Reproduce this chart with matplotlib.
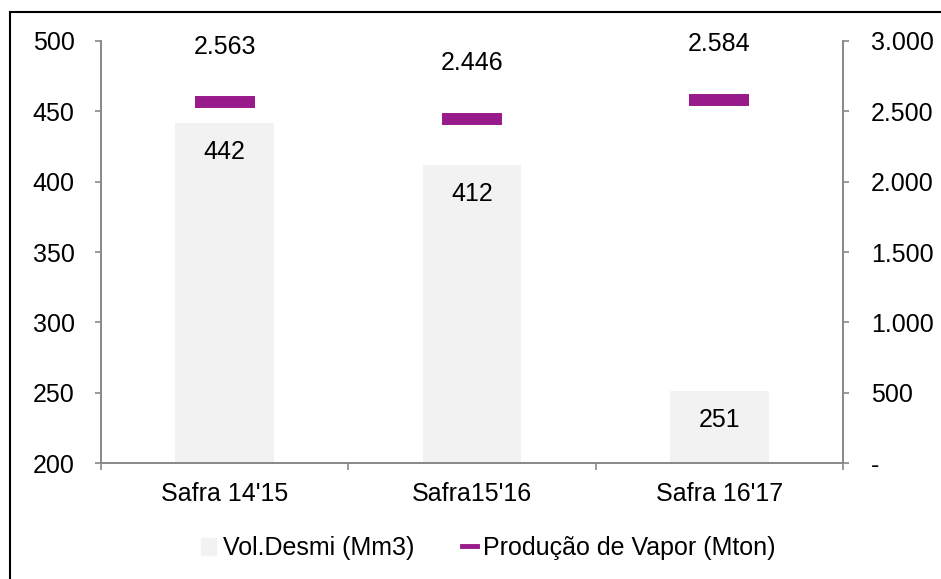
import matplotlib.pyplot as plt
import matplotlib.patches as mpatches
from matplotlib.lines import Line2D
from matplotlib.ticker import FuncFormatter, FixedLocator
import numpy as np

plt.rcParams['font.family'] = ['Liberation Sans', 'DejaVu Sans']

# dados
safras = ["Safra 14'15", "Safra15'16", "Safra 16'17"]
vol_desmi = [442, 412, 251]          # Mm3, eixo esquerdo
prod_vapor = [2563, 2446, 2584]      # Mton, eixo direito

bar_cor = '#F2F2F2'
roxo = '#991A8A'
cinza = '#888888'
fs = 18

fig = plt.figure(figsize=(9.41, 5.79), dpi=100)
ax = fig.add_axes([0.1073, 0.2003, 0.7886, 0.7289])
ax2 = ax.twinx()

x = np.arange(len(safras))
ax.bar(x, vol_desmi, width=0.4, color=bar_cor, bottom=0, zorder=1)
ax.set_ylim(200, 500)
ax.set_xlim(-0.5, len(safras) - 0.5)
ax.set_yticks(np.arange(200, 501, 50))

for xi, v in zip(x, vol_desmi):
    ax.annotate(str(v), (xi, v), xytext=(0, -21), textcoords='offset points',
                ha='center', va='center', fontsize=fs)

ax2.plot(x, prod_vapor, linestyle='none', marker='_', markersize=42.5,
         markeredgewidth=8.6, color=roxo, zorder=3)
ax2.set_ylim(0, 3000)
ax2.set_yticks(np.arange(0, 3001, 500))
ax2.yaxis.set_major_formatter(FuncFormatter(
    lambda v, p: '-' if v == 0 else f'{int(v):,}'.replace(',', '.')))

for xi, v in zip(x, prod_vapor):
    ax2.annotate(f'{v:,}'.replace(',', '.'), (xi, v), xytext=(0, 40),
                 textcoords='offset points', ha='center', va='center', fontsize=fs)

# eixo x: rótulos no centro, marcas entre categorias
ax.set_xticks(x)
ax.set_xticklabels(safras, fontsize=fs)
ax.xaxis.set_minor_locator(FixedLocator([-0.5, 0.5, 1.5, 2.5]))
ax.tick_params(axis='x', which='major', length=0, pad=14)
ax.tick_params(axis='x', which='minor', length=5, color=cinza, width=1.2)
ax.tick_params(axis='y', labelsize=fs, length=4, color=cinza, width=1.2, pad=15)
ax2.tick_params(axis='y', labelsize=fs, length=4, color=cinza, width=1.2, pad=16)

for a in (ax, ax2):
    a.spines['top'].set_visible(False)
    for s in ('left', 'right', 'bottom'):
        a.spines[s].set_color(cinza)
        a.spines[s].set_linewidth(1.2)

handles = [mpatches.Patch(color=bar_cor, label='Vol.Desmi (Mm3)'),
           Line2D([], [], color=roxo, lw=3.5, label='Produção de Vapor (Mton)')]
fig.legend(handles=handles, loc='center', bbox_to_anchor=(0.519, 0.0535),
           ncol=2, frameon=False, fontsize=fs, handlelength=0.6,
           handletextpad=0.25, columnspacing=1.9)

# moldura
fig.patches.append(mpatches.Rectangle((0.0106, -0.1), 1.5, 1.079,
                                      transform=fig.transFigure, fill=False,
                                      edgecolor='black', linewidth=1.5))

fig.savefig('out.png', dpi=100)
